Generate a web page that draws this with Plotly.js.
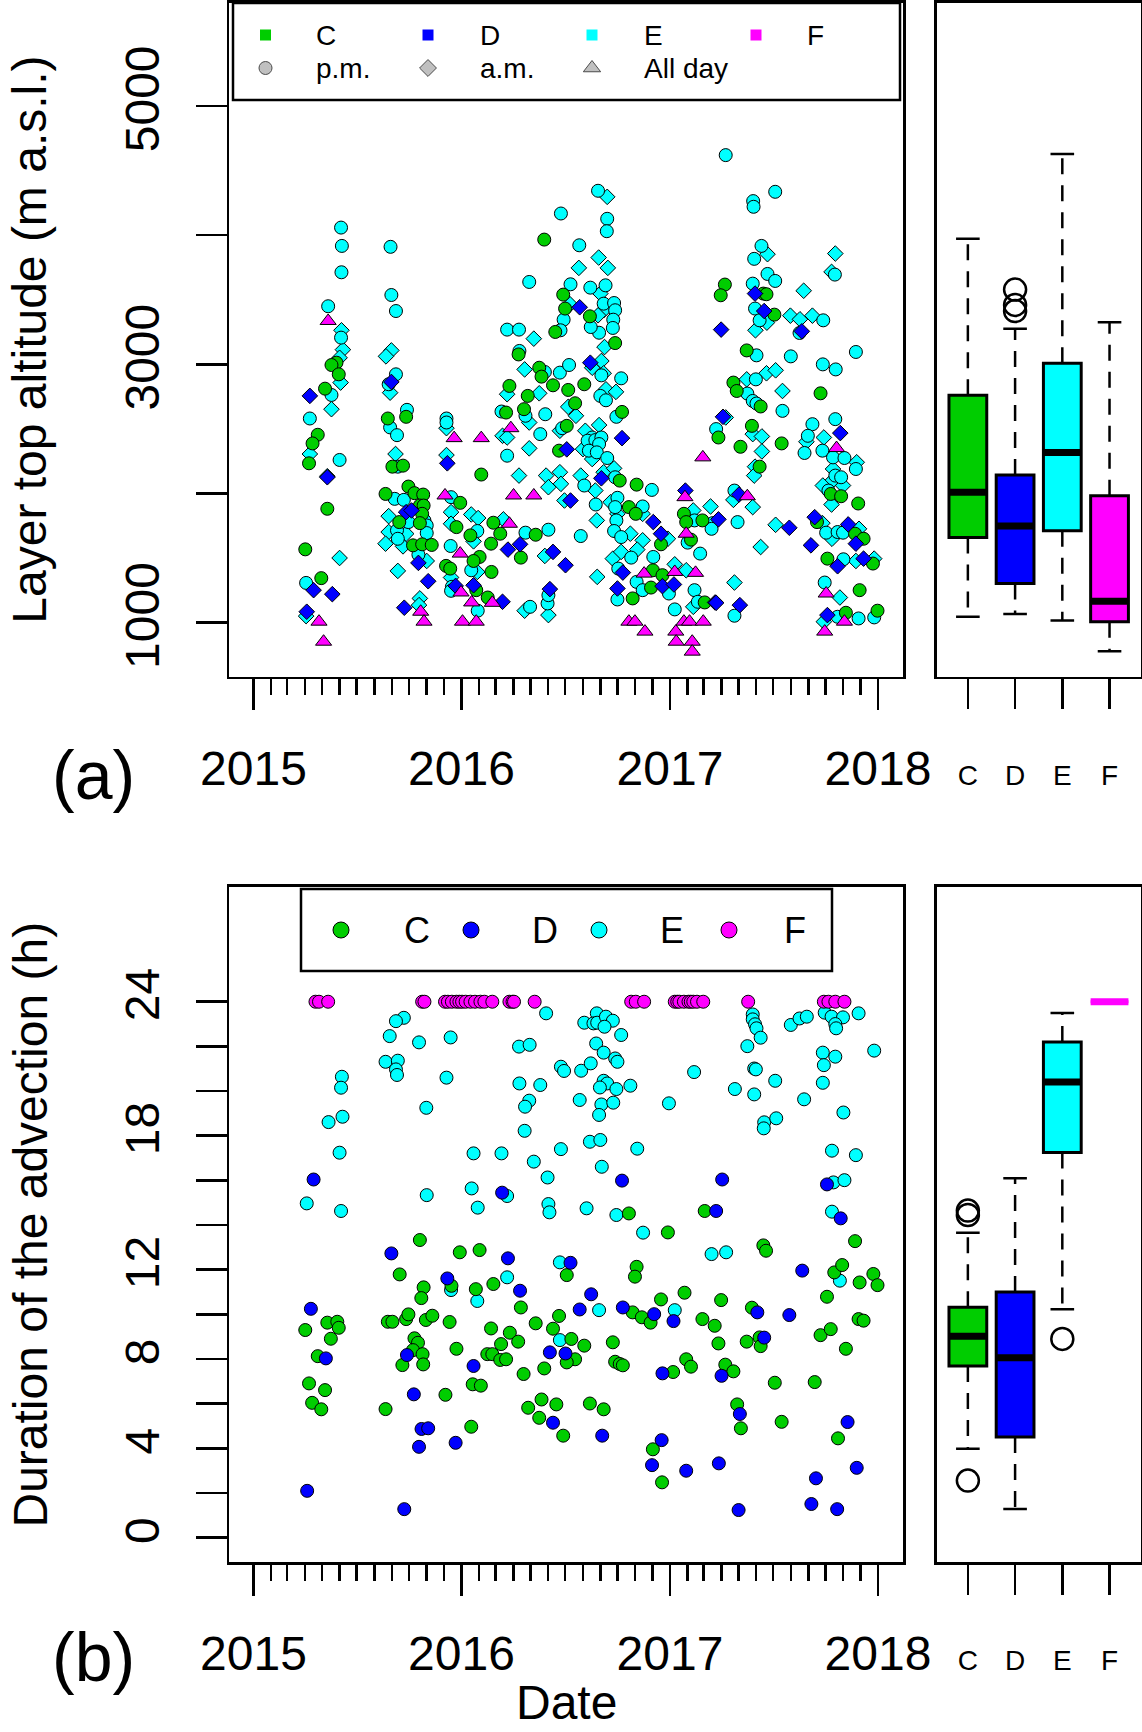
<!DOCTYPE html>
<html><head><meta charset="utf-8">
<script src="https://cdn.plot.ly/plotly-3.0.1.min.js"></script>
<style>html,body{margin:0;padding:0;background:#fff}#chart{width:1142px;height:1732px}</style>
</head><body><div id="chart"></div>
<script>
// ---------------- DATA ----------------
// Panel (a): layer top altitude (m a.s.l.), dates as decimal years
const topC_pm_t = [2016.397,2016.488,2016.737,2016.616,2016.497,2016.450,2017.264,2017.244,2017.449,2017.464,2017.502,2017.369,
2015.399,2015.375,2015.410,2015.344,2015.309,2015.284,2015.267,2015.355,2015.249,2015.326,
2015.734,2015.646,2015.668,2015.719,2016.095,2015.635,2015.745,2015.774,2015.816,2015.994,2015.800,2015.818,2015.811,2015.701,2015.800,2015.976,2016.043,2015.767,2015.811,2015.857,2016.087,2016.058,2016.142,2016.153,2016.186,2015.926,2015.946,2016.144,2016.071,2016.126,
2016.274,2016.373,2016.384,2016.230,2016.318,2016.439,2016.512,2016.589,2016.214,2016.300,2016.545,2016.770,2016.505,2016.468,2016.759,2016.356,2016.285,
2016.803,2016.836,2016.840,2016.957,2016.918,2016.909,2016.964,2016.821,2017.167,
2017.067,2017.078,2017.156,2017.101,2017.233,2017.305,2017.321,2017.436,2017.394,2017.339,2017.537,2017.431,
2017.724,2017.773,2017.823,2017.905,2017.707,2017.890,2017.931,2017.757,2017.976,2017.912,2017.846,2017.998];
const topC_pm_h = [3966,3540,3165,3372,3432,3251,3618,3535,3548,3543,3385,3108,
3013,2995,2923,2812,2455,2388,2234,1882,1568,1345,
2594,2581,2208,2216,2147,1997,2054,2003,1992,1928,1907,1907,1843,1779,1771,1740,1676,1599,1607,1602,1509,1478,1612,1774,1689,1440,1419,1393,1252,1195,
3077,2974,2905,2833,2756,2838,2802,2846,2627,2653,2699,2632,2524,2332,2100,1681,1504,
1895,1843,2069,1607,1406,1272,1368,1188,1157,
1843,1779,1792,1643,2434,2859,2794,2674,2524,2362,2388,2208,
2776,1997,1979,1923,1779,1689,1650,1496,1458,1252,1077,1093];

const topD_am_t = [2016.567,2017.409,2017.453,2017.246,2017.634,
2015.271,2015.355,2015.289,2015.379,2015.256,2015.663,2015.932,2015.734,2015.760,2015.793,2015.840,2015.972,2016.058,2015.725,2016.197,
2016.618,2016.505,2016.770,2016.671,2016.523,2016.223,2016.281,2016.439,2016.499,2016.424,2016.920,2016.957,2016.774,2016.964,2017.019,2016.748,2017.217,
2017.074,2017.233,2017.255,2017.332,2017.336,2017.222,2017.574,2017.819,2017.696,2017.857,2017.894,2017.678,2017.806,2017.931,2017.757];
const topD_am_h = [3442,3548,3413,3269,3256,
2756,2126,1252,1221,1085,2864,2234,1856,1869,1463,1321,1285,1290,1116,1162,
3013,2342,2429,2118,1946,1566,1607,1548,1445,1260,1779,1689,1388,1283,1296,1265,1157,
2023,1800,2594,1992,1136,1154,1735,2468,1817,1761,1612,1599,1437,1496,1059];

const topE_pm_t = [2017.268,2016.655,2016.477,2017.506,2017.400,2017.402,2016.699,2016.697,2015.421,2015.425,
2015.659,2015.423,2016.565,2016.691,2016.325,2016.523,2016.618,2016.682,2016.732,2016.737,
2016.728,2016.726,2016.660,2016.620,2016.490,2016.475,2016.219,2016.276,2016.278,2015.359,
2015.421,2015.663,2015.685,2017.398,2017.440,2017.405,2017.469,2017.506,2017.409,2017.431,
2017.737,2017.623,2017.793,2017.416,2017.581,2017.894,
2015.375,2015.271,2015.414,2015.253,
2015.685,2015.650,2015.738,2015.657,2015.690,2015.928,2015.928,2015.694,2015.679,2015.723,
2015.950,2015.822,2015.833,2015.745,2016.076,2015.690,2015.694,2015.833,2015.793,2015.948,
2016.047,2015.954,2015.950,2016.078,
2016.400,2016.472,2016.516,2016.766,2016.671,2016.666,2016.693,2016.192,2016.307,2016.402,
2016.743,2016.378,2016.483,2016.219,2016.627,2016.605,2016.642,2016.671,2016.660,2016.611,
2016.649,2016.699,2016.589,2016.737,2016.644,2016.572,2016.417,2016.307,2016.329,2016.413,
2016.417,2016.748,2016.737,2016.743,2016.732,2016.766,2016.913,2016.869,2016.814,2016.920,
2016.752,2016.840,2016.869,2016.995,2017.118,2016.748,2017.023,2017.134,
2017.118,2017.206,2017.200,2017.085,2017.145,2017.222,2017.310,2017.325,2017.310,2017.413,2017.372,2017.398,2017.416,2017.541,
2017.735,2017.797,2017.795,2017.685,2017.663,2017.647,2017.733,2017.784,2017.839,2017.894,
2017.795,2017.823,2017.762,2017.751,2017.806,2017.832,2017.834,2017.744,2017.806,2017.907,2017.982];
const topE_pm_h = [4620,4344,4168,4336,4264,4220,4127,4031,4059,3917,
3910,3713,3922,3612,3638,3620,3594,3470,3475,3419,
3346,3282,3245,3289,3346,3264,3269,3269,3104,3450,
3207,3537,3413,3625,3917,3817,3700,3646,3432,3341,
3341,3243,3695,3070,3062,3096,
2763,2581,2260,1308,
2923,2846,2648,2512,2452,2581,2550,2208,1959,1951,
1972,1792,1753,1779,1710,1715,1650,1694,1527,1594,
1406,1278,1247,1093,
2941,2936,2995,2892,2915,2756,2722,2635,2602,2614,
2594,2460,2506,2293,2434,2409,2414,2434,2383,2332,
2319,2275,2062,2126,1915,1671,1720,1697,1123,1149,
1213,1967,1895,1792,1710,1663,2028,1900,1504,1509,
1419,1316,1252,1226,1252,1180,1103,1162,
1792,1771,1727,1620,1535,2499,2023,1779,1054,2884,2774,2717,2697,2640,
3000,2961,2576,2537,2447,2314,2332,2280,2275,2190,
2139,2126,2023,1697,1702,1697,1491,1311,1046,1033,1041];

const topE_am_t = [2016.699,2016.658,2016.563,2016.702,2016.666,2016.682,2016.655,2016.686,2016.521,2016.347,
2015.423,2015.430,2015.663,2015.637,2017.469,2017.466,2017.411,2017.579,2017.625,2017.685,
2017.643,2017.795,2017.777,
2015.414,2015.419,2015.375,2015.271,2015.355,2015.414,2015.253,2015.657,2015.683,2015.928,
2015.928,2015.650,2015.950,2015.950,2016.047,2016.080,2016.058,2015.650,2015.734,2015.635,
2015.719,2015.833,2015.694,2016.076,2015.950,2015.800,2015.796,2016.201,
2016.303,2016.627,2016.671,2016.682,2016.219,2016.373,2016.693,2016.741,2016.325,2016.512,
2016.549,2016.197,2016.219,2016.472,2016.325,2016.594,2016.660,2016.583,2016.627,2016.276,
2016.406,2016.472,2016.477,2016.417,2016.572,2016.682,2016.732,2016.494,2016.642,2016.649,
2016.400,2016.303,2016.417,2016.651,2016.715,2016.748,2016.810,2016.869,2016.869,2016.726,
2016.766,2016.843,2016.990,2017.023,2017.078,2017.112,
2017.112,2017.195,2017.268,2017.305,2017.398,2017.310,2017.369,2017.464,2017.508,2017.541,
2017.398,2017.442,2017.442,2017.409,2017.405,2017.436,2017.508,
2017.656,2017.740,2017.898,2017.784,2017.832,2017.773,2017.735,2017.777,2017.733,2017.779,
2017.909,2017.894,2017.982,2017.817,2017.740];
const topE_am_h = [4297,3827,3747,3747,3548,3419,3380,3134,3465,3199,
3264,3114,3108,3062,3853,3323,3264,3377,3349,3377,
3570,3858,3716,
3051,2859,2653,2306,2134,1501,1051,2781,2306,2506,
2298,1825,1856,1766,1838,1810,1630,1702,1689,1612,
1591,1478,1401,1393,1350,1188,1136,1800,
2961,2974,3026,2931,2769,2776,2807,2787,2550,2671,
2602,2447,2434,2486,2350,2486,2530,2344,2267,2139,
2139,2165,2075,2049,2139,2165,2195,1946,2023,1792,
1517,1093,1059,1355,1933,1843,1689,1843,1638,1496,
1548,1566,1650,1452,1406,1123,
1869,1900,2589,1951,1895,1311,2884,2931,2954,2794,
2460,2442,2326,2208,2139,1586,1758,
2401,2434,2242,2190,2062,2087,2062,1915,1771,1650,
1727,1478,1496,1195,1008];

const topF_all_t = [2015.359,2015.315,2015.337,2015.965,2016.095,2015.921,2015.994,2016.230,2015.998,2015.804,
2015.820,2016.049,2016.148,2016.005,2016.071,2016.237,2016.250,2016.347,2016.876,2017.023,
2017.123,2016.803,2016.832,2016.880,2017.067,2017.094,2017.160,2017.028,2017.030,2017.107,
2017.107,2017.072,2017.078,2017.158,2017.372,2017.801,2017.751,2017.839,2017.744];
const topF_all_h = [3336,1008,853,2429,2429,1985,1535,1766,1234,1085,
1008,1157,1154,1008,1008,2506,1985,1985,1380,1393,
1386,1008,1008,931,1008,1008,1008,931,853,853,
776,1972,1689,2280,1979,2352,1226,1008,931];

// Panel (b): duration of the advection (h)
const durC_t = [2015.800,2015.992,2016.087,2015.703,2015.818,2015.807,2015.952,2016.069,2016.153,2016.285,
2016.505,2016.840,2016.832,2016.990,2017.070,2016.957,2017.246,2017.394,2017.449,2017.462,
2017.890,2017.790,2017.828,2017.978,2017.998,2017.912,2017.755,2015.249,2015.355,2015.403,
2015.410,2015.372,2015.309,2015.267,2015.344,2015.282,2015.326,2015.646,2015.668,2015.734,
2015.745,2015.829,2015.860,2015.943,2015.774,2015.791,2015.767,2015.813,2015.716,2015.816,
2015.976,2015.635,2015.923,2016.047,2016.142,2016.232,2016.356,2016.439,2016.468,2016.190,
2016.272,2016.124,2016.148,2016.186,2016.214,2016.298,2016.397,2016.054,2016.093,2016.527,
2016.589,2016.545,2016.505,2016.726,2016.737,2016.759,2016.774,2016.320,2016.384,2016.455,
2016.373,2016.488,2016.616,2016.682,2016.821,2016.865,2016.907,2017.156,2017.215,2017.233,
2017.078,2017.101,2017.015,2017.266,2017.305,2017.369,2017.431,2017.436,2017.504,2017.323,
2017.341,2017.537,2016.918,2016.962,2017.724,2017.773,2017.846,2017.696,2017.907,2017.931,
2017.808,2016.803,2017.167];
const durC_h = [13.33,12.78,12.88,11.79,11.21,10.73,11.28,11.13,11.36,10.31,
11.76,12.13,11.69,13.67,10.97,10.67,10.64,10.30,13.09,12.85,
13.28,11.88,12.21,11.81,11.31,11.43,10.79,9.30,9.63,9.67,
9.40,8.91,8.13,6.91,6.61,6.04,5.75,9.67,9.67,9.79,
10.0,9.75,9.94,9.66,8.93,8.73,8.40,8.22,7.73,7.76,
8.46,5.76,6.40,4.97,9.37,9.18,9.60,9.36,9.93,8.67,
8.78,8.22,8.22,7.96,7.99,7.33,7.58,6.87,6.81,8.90,
8.60,7.99,7.85,8.75,7.88,7.78,7.72,5.82,6.19,5.97,
5.37,4.57,6.01,5.75,10.09,9.87,9.63,9.79,9.49,8.70,
7.99,7.66,7.42,7.75,7.45,8.78,8.97,8.58,6.94,5.97,
4.90,5.19,3.96,2.48,9.07,9.34,8.46,6.97,9.79,9.72,
4.45,14.52,14.63];

const durD_t = [2015.289,2016.195,2016.770,2017.251,2017.222,2017.755,2017.821,2015.663,2016.223,2016.523,
2015.932,2016.281,2016.622,2016.567,2016.774,2016.924,2017.017,2015.276,2015.348,2015.738,
2016.058,2016.424,2016.499,2016.964,2017.248,2017.420,2017.453,2017.574,2017.636,2015.771,
2015.808,2015.840,2015.796,2015.972,2016.439,2016.675,2017.336,2016.960,2016.914,2017.078,
2017.235,2017.854,2017.898,2017.702,2015.258,2015.725,2017.330,2017.680,2017.804];
const durD_h = [16.04,15.45,15.99,16.04,14.63,15.82,14.30,12.73,12.51,12.31,
11.61,11.06,10.90,10.22,10.31,10.01,9.70,10.25,8.03,8.18,
7.69,8.30,8.25,7.36,7.25,10.09,8.96,9.97,11.96,6.42,
4.87,4.90,4.07,4.25,5.15,4.57,5.54,4.37,3.25,3.00,
3.33,5.18,3.13,2.66,2.10,1.28,1.24,1.51,1.28];

const durE_t = [2016.406,2015.723,2015.685,2016.649,2016.589,2016.633,2016.651,2016.693,2016.726,2016.686,
2016.766,2015.655,2015.796,2015.948,2016.276,2016.327,2016.646,2016.682,2016.737,2016.748,
2015.635,2015.694,2015.685,2015.690,2015.928,2016.477,2016.492,2016.574,2016.620,2017.116,
2017.398,2017.398,2017.409,2017.416,2017.436,2017.372,2017.581,2017.623,2017.658,2017.744,
2017.777,2017.832,2017.795,2017.799,2017.907,2017.982,2017.735,2017.795,2017.740,2017.405,
2017.413,2017.506,2017.735,2016.278,2016.378,2016.682,2016.699,2016.664,2016.743,2016.810,
2017.312,2017.405,2017.645,2016.567,2016.325,2016.305,2016.671,2016.728,2016.660,2016.995,
2015.425,2015.421,2015.831,2015.361,2015.428,2017.453,2017.451,2017.511,2017.834,2016.303,
2015.414,2016.058,2016.192,2016.347,2016.477,2016.616,2016.666,2016.843,2016.673,2017.779,
2017.894,2016.413,2015.256,2015.421,2015.833,2016.049,2016.078,2016.219,2016.417,2016.422,
2016.600,2016.743,2017.786,2017.839,2017.779,2016.871,2016.472,2017.200,2017.270,2016.219,
2015.950,2016.076,2016.660,2017.023,2016.472,2017.817];
const durE_h = [23.48,23.28,23.13,23.48,23.06,23.03,23.06,23.33,23.15,22.88,
22.51,22.46,22.18,22.40,21.99,22.07,22.13,21.72,21.46,21.31,
21.31,21.36,20.97,20.72,20.60,21.09,20.90,20.91,21.24,20.85,
23.43,23.21,22.99,22.81,22.39,22.01,22.96,23.25,23.33,23.51,
23.33,23.30,23.00,22.81,23.48,21.81,21.72,21.54,21.16,21.01,
20.97,20.46,20.37,20.34,20.27,20.46,20.34,20.16,20.09,20.24,
20.09,19.85,19.63,19.60,19.57,19.30,19.40,19.48,18.93,19.45,
20.64,20.15,19.25,18.61,18.85,18.60,18.33,18.78,19.04,18.22,
17.24,17.21,17.21,16.84,17.40,17.73,17.81,17.42,16.61,17.33,
17.13,16.13,14.97,14.63,15.34,15.64,14.78,15.30,14.94,14.57,
14.75,14.45,15.91,16.01,14.60,13.66,12.33,12.70,12.78,11.66,
11.09,10.60,10.19,10.19,8.85,11.51];

const durF_t = [2015.298,2015.315,2015.359,2015.811,2015.822,2015.921,2015.935,2015.954,2015.976,2015.990,
2016.003,2016.020,2016.043,2016.065,2016.091,2016.110,2016.148,2016.230,2016.245,2016.252,
2016.351,2016.814,2016.836,2016.876,2017.023,2017.035,2017.045,2017.067,2017.089,2017.100,
2017.112,2017.130,2017.160,2017.376,2017.740,2017.762,2017.795,2017.839];
const durF_h = [24,24,24,24,24,24,24,24,24,24,
24,24,24,24,24,24,24,24,24,24,
24,24,24,24,24,24,24,24,24,24,
24,24,24,24,24,24,24,24];

// Box-plot statistics
const boxCats = ['C','D','E','F'];
const altLower = [1047,1067,1017,779];
const altQ1    = [1659,1303,1711,1008];
const altMed   = [2010,1748,2317,1166];
const altQ3    = [2761,2143,3008,1982];
const altUpper = [3973,3275,4628,3327];
const altOutCat = ['D','D','D'];
const altOutVal = [3579,3460,3413];
const durLower = [3.98,1.29,10.23,24];
const durQ1    = [7.69,4.51,17.25,24];
const durMed   = [9.02,8.06,20.4,24];
const durQ3    = [10.32,11.0,22.2,24];
const durUpper = [13.66,16.1,23.5,24];
const durOutCat = ['C','C','C','E'];
const durOutVal = [14.45,14.65,2.56,8.9];

// Tick labels and titles
const yearLabels = ['2015','2016','2017','2018'];
const altTickVals = [1000,2000,3000,4000,5000];
const altTickText = ['1000','','3000','','5000'];
const durTickVals = [0,2,4,6,8,10,12,14,16,18,20,22,24];
const durTickText = ['0','','4','','8','','12','','','18','','','24'];
const legendGroups = ['C','D','E','F'];
const legendTimes = ['p.m.','a.m.','All day'];
const titleAlt = 'Layer top altitude (m a.s.l.)';
const titleDur = 'Duration of the advection (h)';
const titleDate = 'Date';

// ---------------- STYLE / LAYOUT ----------------
const W = 1142, H = 1732;
const FONT = 'Liberation Sans, Arial, Helvetica, sans-serif';
const COL = {C:'#00CD00', D:'#0000FF', E:'#00FFFF', F:'#FF00FF'};
const GREY = '#A6A6A6';
const P = {x0:229, x1:903, bx0:936.7, bx1:1140.7, ty0:2.7, ty1:676.7, by0:886.7, by1:1562.3};
const dxr = (a,b)=>[a/W, b/W];
const dyr = (top,bot)=>[1-bot/H, 1-top/H];

function decToDate(d){
  const y = Math.floor(d);
  const a = Date.UTC(y,0,1), b = Date.UTC(y+1,0,1);
  return new Date(a + (d-y)*(b-a)).toISOString().slice(0,19).replace('T',' ');
}
const yearTickVals = yearLabels.map(y=>y+'-01-01');
const monthTicks = [];
for(let y=2015;y<=2017;y++){ for(let m=2;m<=12;m++){ monthTicks.push(y+'-'+(m<10?'0':'')+m+'-01'); } }

const traces = [];
function pts(tArr,hArr,col,symbol,size,xa,ya){
  traces.push({type:'scatter',mode:'markers',x:tArr.map(decToDate),y:hArr,xaxis:xa,yaxis:ya,
    marker:{symbol:symbol,size:size,color:col,line:{color:'black',width:1}},showlegend:false,hoverinfo:'skip'});
}
// Panel (a)
pts(topE_am_t,topE_am_h,COL.E,'diamond',12,'x','y');
pts(topE_pm_t,topE_pm_h,COL.E,'circle',13,'x','y');
pts(topC_pm_t,topC_pm_h,COL.C,'circle',13,'x','y');
pts(topD_am_t,topD_am_h,COL.D,'diamond',12,'x','y');
pts(topF_all_t,topF_all_h,COL.F,'triangle-up',14,'x','y');
// Panel (b)
pts(durE_t,durE_h,COL.E,'circle',13,'x3','y3');
pts(durC_t,durC_h,COL.C,'circle',13,'x3','y3');
pts(durD_t,durD_h,COL.D,'circle',13,'x3','y3');
pts(durF_t,durF_h,COL.F,'circle',13,'x3','y3');

// Box plots
const BW = 0.8, CAP = 0.25;
function boxes(lower,q1,med,q3,upper,outCat,outVal,xa,ya){
  boxCats.forEach((c,i)=>{
    const pos = i+1;
    const col = COL[c];
    const flat = q1[i]===q3[i];
    if(!flat){
      traces.push({type:'scatter',mode:'lines',x:[pos,pos,null,pos,pos],y:[q3[i],upper[i],null,q1[i],lower[i]],
        xaxis:xa,yaxis:ya,line:{color:'black',width:2.5,dash:'16px,11px'},showlegend:false,hoverinfo:'skip'});
      traces.push({type:'scatter',mode:'lines',x:[pos-CAP,pos+CAP,null,pos-CAP,pos+CAP],y:[upper[i],upper[i],null,lower[i],lower[i]],
        xaxis:xa,yaxis:ya,line:{color:'black',width:2.5},showlegend:false,hoverinfo:'skip'});
    }
    traces.push({type:'box',x:[pos],q1:[q1[i]],median:[med[i]],q3:[q3[i]],lowerfence:[q1[i]],upperfence:[q3[i]],
      width:BW,whiskerwidth:0,boxpoints:false,fillcolor:col,line:{color:flat?col:'black',width:3},
      xaxis:xa,yaxis:ya,showlegend:false,hoverinfo:'skip'});
    traces.push({type:'scatter',mode:'lines',x:[pos-BW/2,pos+BW/2],y:[med[i],med[i]],xaxis:xa,yaxis:ya,
      line:{color:flat?col:'black',width:7},showlegend:false,hoverinfo:'skip'});
  });
  traces.push({type:'scatter',mode:'markers',x:outCat.map(c=>boxCats.indexOf(c)+1),y:outVal,xaxis:xa,yaxis:ya,
    marker:{symbol:'circle-open',size:22,color:'black',line:{width:2.5,color:'black'}},showlegend:false,hoverinfo:'skip'});
}
boxes(altLower,altQ1,altMed,altQ3,altUpper,altOutCat,altOutVal,'x2','y2');
boxes(durLower,durQ1,durMed,durQ3,durUpper,durOutCat,durOutVal,'x4','y4');

// Legends (drawn on an overlay axis measured in figure pixels)
const LT = {x0:233,y0:3,x1:900,y1:100,row1:35,row2:68,sym:[265.5,428,592,756],txt:[314,478,642,805]};
const LB = {x0:301,y0:889,x1:832,y1:971,row:930,sym:[341,471,599,729],txt:[417,545,672,795]};
traces.push({type:'scatter',mode:'markers',x:LT.sym,y:LT.sym.map(()=>LT.row1),xaxis:'x5',yaxis:'y5',
  marker:{symbol:'square',size:11,color:legendGroups.map(g=>COL[g]),line:{width:0}},showlegend:false,hoverinfo:'skip'});
traces.push({type:'scatter',mode:'markers',x:LT.sym.slice(0,3),y:[LT.row2,LT.row2,LT.row2],xaxis:'x5',yaxis:'y5',
  marker:{symbol:['circle','diamond','triangle-up'],size:[13,13,15],color:GREY,line:{color:'black',width:1}},showlegend:false,hoverinfo:'skip'});
traces.push({type:'scatter',mode:'markers',x:LB.sym,y:LB.sym.map(()=>LB.row),xaxis:'x5',yaxis:'y5',
  marker:{symbol:'circle',size:16,color:legendGroups.map(g=>COL[g]),line:{color:'black',width:1}},showlegend:false,hoverinfo:'skip'});

const annotations = [];
legendGroups.forEach((g,i)=>annotations.push({xref:'x5',yref:'y5',x:LT.txt[i],y:LT.row1,text:g,showarrow:false,xanchor:'left',yanchor:'middle',font:{family:FONT,size:28,color:'black'}}));
legendTimes.forEach((g,i)=>annotations.push({xref:'x5',yref:'y5',x:LT.txt[i],y:LT.row2,text:g,showarrow:false,xanchor:'left',yanchor:'middle',font:{family:FONT,size:28,color:'black'}}));
legendGroups.forEach((g,i)=>annotations.push({xref:'x5',yref:'y5',x:LB.txt[i],y:LB.row,text:g,showarrow:false,xanchor:'center',yanchor:'middle',font:{family:FONT,size:36,color:'black'}}));
annotations.push({xref:'paper',yref:'paper',x:94/W,y:1-775/H,text:'(a)',showarrow:false,xanchor:'center',yanchor:'middle',font:{family:FONT,size:68,color:'black'}});
annotations.push({xref:'paper',yref:'paper',x:94/W,y:1-1657/H,text:'(b)',showarrow:false,xanchor:'center',yanchor:'middle',font:{family:FONT,size:68,color:'black'}});
// Axis titles
const tFont = {family:FONT,size:48,color:'black'};
annotations.push({xref:'paper',yref:'paper',x:30/W,y:1-(P.ty0+P.ty1)/2/H,text:titleAlt,textangle:-90,showarrow:false,xanchor:'center',yanchor:'middle',font:tFont});
annotations.push({xref:'paper',yref:'paper',x:30/W,y:1-(P.by0+P.by1)/2/H,text:titleDur,textangle:-90,showarrow:false,xanchor:'center',yanchor:'middle',font:tFont});
annotations.push({xref:'paper',yref:'paper',x:(P.x0+P.x1)/2/W,y:1-1702/H,text:titleDate,showarrow:false,xanchor:'center',yanchor:'middle',font:tFont});

const shapes = [
  {type:'rect',xref:'x5',yref:'y5',x0:LT.x0,y0:LT.y0,x1:LT.x1,y1:LT.y1,line:{color:'black',width:2.5},fillcolor:'rgba(0,0,0,0)'},
  {type:'rect',xref:'x5',yref:'y5',x0:LB.x0,y0:LB.y0,x1:LB.x1,y1:LB.y1,line:{color:'black',width:2.5},fillcolor:'rgba(0,0,0,0)'}
];

const base = {showline:true,linecolor:'black',linewidth:2.5,mirror:true,showgrid:false,zeroline:false,
  ticks:'outside',tickcolor:'black',tickwidth:2.5,tickfont:{family:FONT,size:48,color:'black'}};
const minor = {tickmode:'array',tickvals:monthTicks,ticks:'outside',ticklen:16,tickwidth:2.5,tickcolor:'black',showgrid:false};

const layout = {
  width:W,height:H,margin:{l:0,r:0,t:0,b:0},paper_bgcolor:'white',plot_bgcolor:'rgba(0,0,0,0)',
  showlegend:false,boxmode:'overlay',font:{family:FONT,color:'black'},
  xaxis:Object.assign({},base,{domain:dxr(P.x0,P.x1),anchor:'y',type:'date',range:['2014-11-19','2018-02-14'],
    tickmode:'array',tickvals:yearTickVals,ticktext:yearLabels,ticklen:31,ticklabelstandoff:17,minor:minor}),
  yaxis:Object.assign({},base,{domain:dyr(P.ty0,P.ty1),anchor:'x',range:[582,5800],tickmode:'array',
    tickvals:altTickVals,ticktext:altTickText,ticklen:31,tickangle:-90,ticklabelstandoff:17}),
  xaxis2:Object.assign({},base,{domain:dxr(P.bx0,P.bx1),anchor:'y2',range:[0.34,4.66],tickmode:'array',
    tickvals:[1,2,3,4],ticktext:boxCats,ticklen:30,tickfont:{family:FONT,size:28,color:'black'},ticklabelstandoff:42}),
  yaxis2:Object.assign({},base,{domain:dyr(P.ty0,P.ty1),anchor:'x2',range:[582,5800],ticks:'',showticklabels:false}),
  xaxis3:Object.assign({},base,{domain:dxr(P.x0,P.x1),anchor:'y3',type:'date',range:['2014-11-19','2018-02-14'],
    tickmode:'array',tickvals:yearTickVals,ticktext:yearLabels,ticklen:31,ticklabelstandoff:17,minor:minor}),
  yaxis3:Object.assign({},base,{domain:dyr(P.by0,P.by1),anchor:'x3',range:[-1.1,29.15],tickmode:'array',
    tickvals:durTickVals,ticktext:durTickText,ticklen:31,tickangle:-90,ticklabelstandoff:17}),
  xaxis4:Object.assign({},base,{domain:dxr(P.bx0,P.bx1),anchor:'y4',range:[0.34,4.66],tickmode:'array',
    tickvals:[1,2,3,4],ticktext:boxCats,ticklen:30,tickfont:{family:FONT,size:28,color:'black'},ticklabelstandoff:42}),
  yaxis4:Object.assign({},base,{domain:dyr(P.by0,P.by1),anchor:'x4',range:[-1.1,29.15],ticks:'',showticklabels:false}),
  xaxis5:{domain:[0,1],anchor:'y5',range:[0,W],visible:false,fixedrange:true},
  yaxis5:{domain:[0,1],anchor:'x5',range:[H,0],visible:false,fixedrange:true},
  annotations:annotations,shapes:shapes
};

Plotly.newPlot('chart',traces,layout,{staticPlot:true,displayModeBar:false});
</script>
</body></html>
